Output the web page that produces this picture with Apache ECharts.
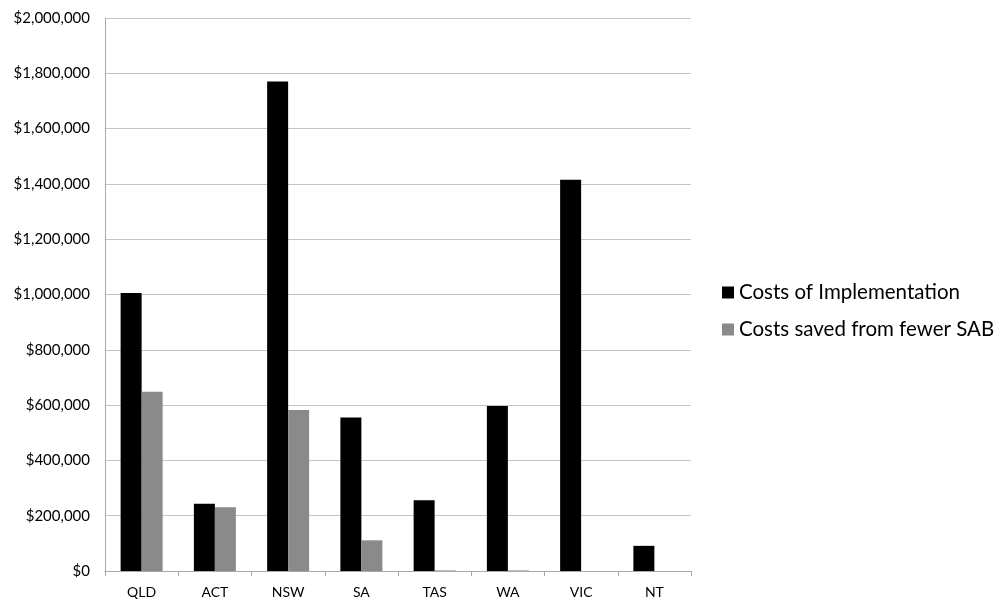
<!DOCTYPE html>
<html><head><meta charset="utf-8">
<script src="https://cdn.jsdelivr.net/npm/echarts@6/dist/echarts.min.js"></script>
<style>html,body{margin:0;padding:0;background:#fff}#c{width:1006px;height:601px}</style>
</head><body><div id="c"></div>
<script>
const categories = ['QLD','ACT','NSW','SA','TAS','WA','VIC','NT'];
const costsImplementation = [1005000, 243000, 1770000, 555000, 256000, 597000, 1415000, 91000];
const costsSaved = [648000, 231000, 582000, 111000, 2000, 2000, 0, 0];
const seriesNames = ['Costs of Implementation', 'Costs saved from fewer SAB'];

const chart = echarts.init(document.getElementById('c'), null, {renderer:'canvas'});
const font = 'Lato, "Open Sans", sans-serif';
chart.setOption({
  animation:false,
  backgroundColor:'#fff',
  grid:{left:105, right:315, top:18, bottom:30, containLabel:false},
  legend:{
    orient:'vertical', left:717, top:277, itemGap:16,
    itemWidth:12, itemHeight:12, icon:'rect',
    textStyle:{fontFamily:font, fontSize:20.5, color:'#000'},
    data:seriesNames
  },
  xAxis:{
    type:'category', data:categories,
    axisLine:{lineStyle:{color:'#a8a8a8', width:1}},
    axisTick:{show:true, length:5, lineStyle:{color:'#a8a8a8'}},
    axisLabel:{fontFamily:font, fontSize:14, color:'#000', margin:14}
  },
  yAxis:{
    type:'value', min:0, max:2000000, interval:200000,
    axisLine:{show:true, lineStyle:{color:'#a8a8a8'}},
    axisTick:{show:false},
    splitLine:{lineStyle:{color:'#c4c4c4', width:1}},
    axisLabel:{fontFamily:font, fontSize:15, color:'#000', margin:15,
      formatter:v=>'$'+v.toLocaleString('en-US')}
  },
  series:[
    {name:seriesNames[0], type:'bar', data:costsImplementation, barWidth:21, barGap:'0%',
     itemStyle:{color:'#000'}},
    {name:seriesNames[1], type:'bar', data:costsSaved, barWidth:21,
     itemStyle:{color:'#8a8a8a'}}
  ]
});
</script></body></html>
